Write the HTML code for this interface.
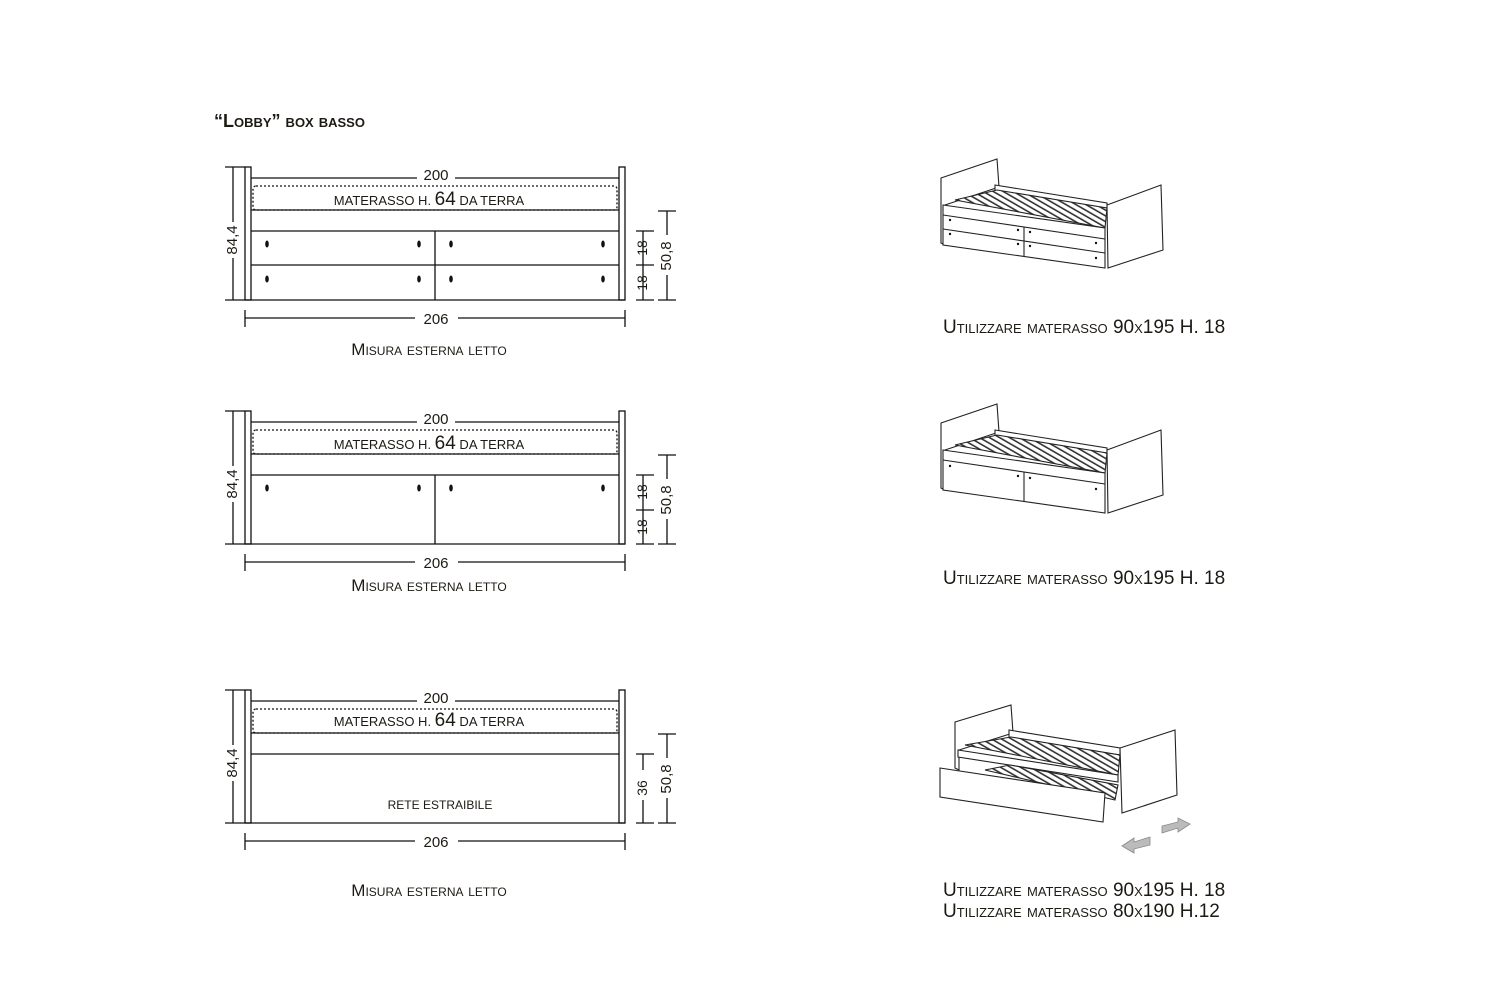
<!DOCTYPE html>
<html><head><meta charset="utf-8"><style>
html,body{margin:0;padding:0;background:#fff;}
svg{display:block;font-family:"Liberation Sans",sans-serif;}
.t{fill:#1d1a14;}
.sc{font-variant:small-caps;}
</style></head><body>
<svg width="1500" height="1000" viewBox="0 0 1500 1000" xmlns="http://www.w3.org/2000/svg">
<defs>
<pattern id="sl" width="5" height="5" patternUnits="userSpaceOnUse" patternTransform="rotate(-60)">
<rect width="5" height="5" fill="#fff"/><rect width="1.6" height="5" fill="#333"/></pattern>
</defs>
<text x="214" y="127" class="t sc" font-size="18" font-weight="bold">“Lobby” box basso</text>

<g stroke="#111" fill="none" stroke-width="1.3">
<rect x="245" y="167" width="6" height="133"/><rect x="619" y="167" width="6" height="133"/>
<line x1="251" y1="178" x2="417" y2="178"/><line x1="455" y1="178" x2="619" y2="178"/>
<rect x="253" y="186" width="364" height="24" rx="3" stroke-dasharray="2,2"/>
<line x1="251" y1="210" x2="619" y2="210"/><line x1="251" y1="231" x2="619" y2="231"/>
<line x1="251" y1="265" x2="619" y2="265"/><line x1="225" y1="300" x2="625" y2="300"/>
<line x1="435" y1="231" x2="435" y2="300"/>
<line x1="225" y1="167" x2="245" y2="167"/><line x1="233" y1="167" x2="233" y2="222"/><line x1="233" y1="258" x2="233" y2="300"/>
<line x1="636" y1="231" x2="654" y2="231"/><line x1="636" y1="265" x2="654" y2="265"/><line x1="636" y1="300" x2="654" y2="300"/>
<line x1="643" y1="231" x2="643" y2="300"/>
<line x1="658" y1="211" x2="676" y2="211"/><line x1="667" y1="211" x2="667" y2="235"/><line x1="667" y1="275" x2="667" y2="300"/><line x1="658" y1="300" x2="676" y2="300"/>
<line x1="245" y1="310" x2="245" y2="327"/><line x1="625" y1="310" x2="625" y2="327"/>
<line x1="245" y1="318" x2="415" y2="318"/><line x1="458" y1="318" x2="625" y2="318"/>
<rect x="245" y="411" width="6" height="133"/><rect x="619" y="411" width="6" height="133"/>
<line x1="251" y1="422" x2="417" y2="422"/><line x1="455" y1="422" x2="619" y2="422"/>
<rect x="253" y="430" width="364" height="24" rx="3" stroke-dasharray="2,2"/>
<line x1="251" y1="454" x2="619" y2="454"/><line x1="251" y1="475" x2="619" y2="475"/>
<line x1="225" y1="544" x2="625" y2="544"/>
<line x1="435" y1="475" x2="435" y2="544"/>
<line x1="225" y1="411" x2="245" y2="411"/><line x1="233" y1="411" x2="233" y2="466"/><line x1="233" y1="502" x2="233" y2="544"/>
<line x1="636" y1="475" x2="654" y2="475"/><line x1="636" y1="510" x2="654" y2="510"/><line x1="636" y1="544" x2="654" y2="544"/>
<line x1="643" y1="475" x2="643" y2="544"/>
<line x1="658" y1="455" x2="676" y2="455"/><line x1="667" y1="455" x2="667" y2="479"/><line x1="667" y1="519" x2="667" y2="544"/><line x1="658" y1="544" x2="676" y2="544"/>
<line x1="245" y1="554" x2="245" y2="571"/><line x1="625" y1="554" x2="625" y2="571"/>
<line x1="245" y1="562" x2="415" y2="562"/><line x1="458" y1="562" x2="625" y2="562"/>
<rect x="245" y="690" width="6" height="133"/><rect x="619" y="690" width="6" height="133"/>
<line x1="251" y1="701" x2="417" y2="701"/><line x1="455" y1="701" x2="619" y2="701"/>
<rect x="253" y="709" width="364" height="24" rx="3" stroke-dasharray="2,2"/>
<line x1="251" y1="733" x2="619" y2="733"/><line x1="251" y1="754" x2="619" y2="754"/>
<line x1="225" y1="823" x2="625" y2="823"/>
<line x1="225" y1="690" x2="245" y2="690"/><line x1="233" y1="690" x2="233" y2="745"/><line x1="233" y1="781" x2="233" y2="823"/>
<line x1="636" y1="754" x2="654" y2="754"/><line x1="636" y1="823" x2="654" y2="823"/>
<line x1="643" y1="754" x2="643" y2="770"/><line x1="643" y1="800" x2="643" y2="823"/>
<line x1="658" y1="734" x2="676" y2="734"/><line x1="667" y1="734" x2="667" y2="758"/><line x1="667" y1="798" x2="667" y2="823"/><line x1="658" y1="823" x2="676" y2="823"/>
<line x1="245" y1="833" x2="245" y2="850"/><line x1="625" y1="833" x2="625" y2="850"/>
<line x1="245" y1="841" x2="415" y2="841"/><line x1="458" y1="841" x2="625" y2="841"/>
</g>
<g fill="#111">
<ellipse cx="267" cy="244" rx="1.8" ry="3.5"/><ellipse cx="419" cy="244" rx="1.8" ry="3.5"/><ellipse cx="451" cy="244" rx="1.8" ry="3.5"/><ellipse cx="603" cy="244" rx="1.8" ry="3.5"/>
<ellipse cx="267" cy="279" rx="1.8" ry="3.5"/><ellipse cx="419" cy="279" rx="1.8" ry="3.5"/><ellipse cx="451" cy="279" rx="1.8" ry="3.5"/><ellipse cx="603" cy="279" rx="1.8" ry="3.5"/>
<ellipse cx="267" cy="488" rx="1.8" ry="3.5"/><ellipse cx="419" cy="488" rx="1.8" ry="3.5"/><ellipse cx="451" cy="488" rx="1.8" ry="3.5"/><ellipse cx="603" cy="488" rx="1.8" ry="3.5"/>
</g>
<g class="t" font-size="15" text-anchor="middle">
<text x="436" y="180">200</text><text x="436" y="324">206</text>
<text x="436" y="424">200</text><text x="436" y="568">206</text>
<text x="436" y="703">200</text><text x="436" y="847">206</text>
<text x="429" y="205" font-size="13">MATERASSO H. <tspan font-size="19">64</tspan> DA TERRA</text>
<text x="429" y="449" font-size="13">MATERASSO H. <tspan font-size="19">64</tspan> DA TERRA</text>
<text x="429" y="726" font-size="13">MATERASSO H. <tspan font-size="19">64</tspan> DA TERRA</text>
<text x="440" y="809" font-size="12">RETE ESTRAIBILE</text>
<text class="sc" x="429" y="355" font-size="17">Misura esterna letto</text>
<text class="sc" x="429" y="591" font-size="17">Misura esterna letto</text>
<text class="sc" x="429" y="896" font-size="17">Misura esterna letto</text>
<text transform="translate(237,240) rotate(-90)">84,4</text>
<text transform="translate(237,484) rotate(-90)">84,4</text>
<text transform="translate(237,763) rotate(-90)">84,4</text>
<text transform="translate(647,248) rotate(-90)" font-size="14">18</text>
<text transform="translate(647,283) rotate(-90)" font-size="14">18</text>
<text transform="translate(671,256) rotate(-90)">50,8</text>
<text transform="translate(647,492) rotate(-90)" font-size="14">18</text>
<text transform="translate(647,527) rotate(-90)" font-size="14">18</text>
<text transform="translate(671,500) rotate(-90)">50,8</text>
<text transform="translate(647,788) rotate(-90)" font-size="14">36</text>
<text transform="translate(671,779) rotate(-90)">50,8</text>
</g>
<g class="t sc" font-size="19">
<text x="943" y="333">Utilizzare materasso <tspan font-size="19">90x195 H. 18</tspan></text>
<text x="943" y="584">Utilizzare materasso <tspan font-size="19">90x195 H. 18</tspan></text>
<text x="943" y="896">Utilizzare materasso <tspan font-size="19">90x195 H. 18</tspan></text>
<text x="943" y="917">Utilizzare materasso <tspan font-size="19">80x190 H.12</tspan></text>
</g>

<g stroke="#222" stroke-width="1.1" fill="#fff">
<polygon points="941,178 997,159 999,187 945,205 945,245 941,243"/>
<polygon points="995,185 1107,203 1107,210 995,192"/>
<polygon points="955,200 997,190 1107,208 1105,228" fill="url(#sl)"/>
<polygon points="943,205 1105,228 1105,268 943,245"/>
<line x1="943" y1="215" x2="1105" y2="239"/><line x1="943" y1="229" x2="1105" y2="253"/>
<line x1="1024" y1="227" x2="1024" y2="257"/>
<polygon points="1107,205 1161,185 1163,250 1108,268"/>
</g>
<g fill="#111"><circle cx="950" cy="220" r="1.2"/><circle cx="950" cy="234" r="1.2"/><circle cx="1018" cy="230" r="1.2"/><circle cx="1018" cy="244" r="1.2"/><circle cx="1030" cy="232" r="1.2"/><circle cx="1030" cy="246" r="1.2"/><circle cx="1096" cy="243" r="1.2"/><circle cx="1096" cy="258" r="1.2"/></g>
<g stroke="#222" stroke-width="1.1" fill="#fff">
<polygon points="941,423 997,404 999,432 945,450 945,490 941,488"/>
<polygon points="995,430 1107,448 1107,455 995,437"/>
<polygon points="955,445 997,435 1107,453 1105,473" fill="url(#sl)"/>
<polygon points="943,450 1105,473 1105,513 943,490"/>
<line x1="943" y1="460" x2="1105" y2="484"/>
<line x1="1024" y1="472" x2="1024" y2="502"/>
<polygon points="1107,450 1161,430 1163,495 1108,513"/>
</g>
<g fill="#111"><circle cx="950" cy="466" r="1.2"/><circle cx="1018" cy="476" r="1.2"/><circle cx="1030" cy="478" r="1.2"/><circle cx="1096" cy="489" r="1.2"/></g>
<g stroke="#222" stroke-width="1.1" fill="#fff">
<polygon points="955,722 1011,705 1013,733 959,750 959,770 955,768"/>
<polygon points="1009,730 1120,748 1120,755 1009,737"/>
<polygon points="965,745 1011,737 1120,755 1118,775" fill="url(#sl)"/>
<polygon points="958,750 1118,775 1118,782 958,757"/>
<polygon points="985,770 1010,765 1118,785 1115,800" fill="url(#sl)"/>
<polygon points="940,768 1105,793 1103,822 940,797"/>
<polygon points="1120,748 1175,730 1177,795 1122,813"/>
</g>
<g fill="#bbb" stroke="#888" stroke-width="0.8">
<polygon points="1122,846 1134,838 1134,842 1150,837 1150,845 1134,849 1134,853"/>
<polygon points="1190,824 1178,832 1178,828 1162,833 1162,826 1178,822 1178,818"/>
</g>
</svg>
</body></html>
